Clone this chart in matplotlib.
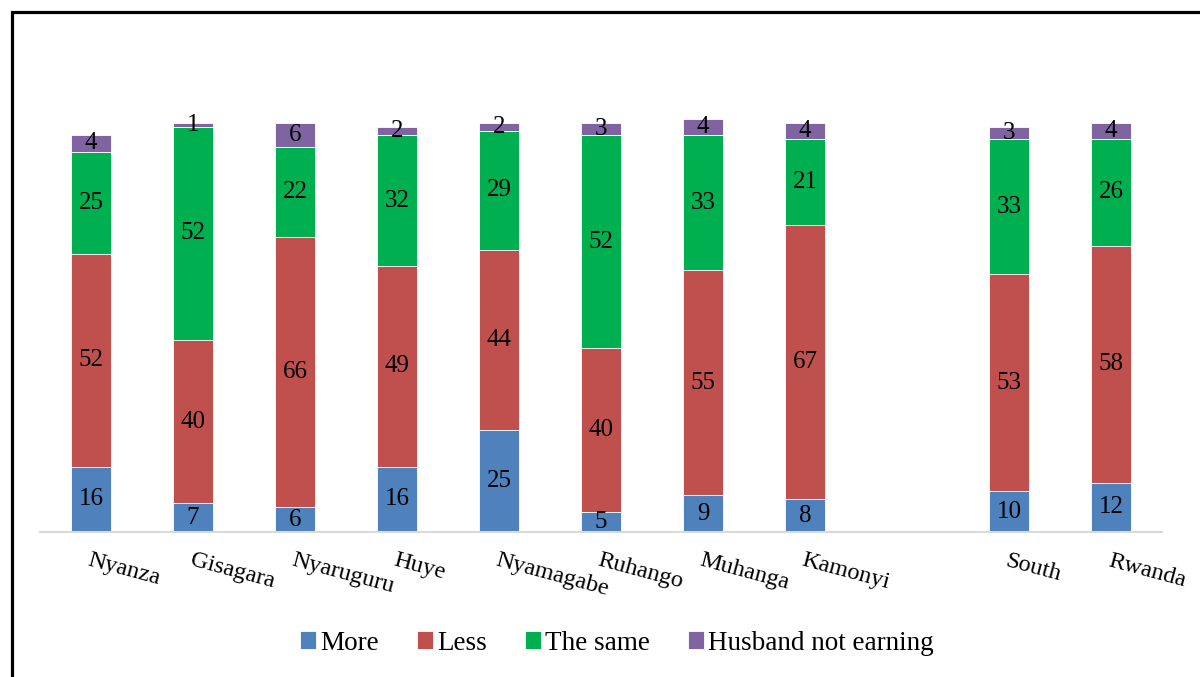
import numpy as np
import matplotlib.pyplot as plt
from matplotlib.patches import Rectangle

plt.rcParams["font.family"] = ["Liberation Serif", "DejaVu Serif"]

categories = ["Nyanza", "Gisagara", "Nyaruguru", "Huye", "Nyamagabe",
              "Ruhango", "Muhanga", "Kamonyi", "South", "Rwanda"]

more = [16, 7, 6, 16, 25, 5, 9, 8, 10, 12]
less = [52, 40, 66, 49, 44, 40, 55, 67, 53, 58]
same = [25, 52, 22, 32, 29, 52, 33, 21, 33, 26]
not_earning = [4, 1, 6, 2, 2, 3, 4, 4, 3, 4]

series = [
    ("More", more, "#4F81BD"),
    ("Less", less, "#C0504D"),
    ("The same", same, "#00B050"),
    ("Husband not earning", not_earning, "#8064A2"),
]

# empty slot between the districts and the totals
gap_after = 8
x = np.array([i if i < gap_after else i + 1 for i in range(len(categories))])

fig = plt.figure(figsize=(12, 6.77), dpi=100)
ax = fig.add_axes([40 / 1200, 145 / 677, 1122 / 1200, 450 / 677])

bottom = np.zeros(len(categories))
for name, vals, color in series:
    vals = np.array(vals, dtype=float)
    ax.bar(x, vals, width=0.39, bottom=bottom, color=color,
           label=name, edgecolor="white", linewidth=0.6, clip_on=False)
    for xi, b, v in zip(x, bottom, vals):
        ax.text(xi, b + v / 2, f"{v:.0f}", ha="center", va="center",
                fontsize=18, color="black")
    bottom += vals

ax.set_xlim(-0.5, 10.5)
ax.set_ylim(0, 110)
ax.set_yticks([])
ax.set_xticks(x)
ax.set_xticklabels(categories, rotation=-15, ha="left",
                   rotation_mode="anchor", fontsize=17.5)
ax.tick_params(axis="x", length=0, pad=13)
for s in ["top", "right", "left"]:
    ax.spines[s].set_visible(False)
ax.spines["bottom"].set_color("#D9D9D9")
ax.spines["bottom"].set_linewidth(1.5)

fig.legend(loc="center", bbox_to_anchor=(617 / 1200, 1 - 643 / 677),
           ncol=4, frameon=False, fontsize=19.5, handlelength=0.6,
           handleheight=0.6, handletextpad=0.15, columnspacing=1.4)

# outer frame of the figure box (top and left edges visible)
fig.patches.append(Rectangle((11.5 / 1200, -0.1), 1.2, 0.1 + 1 - 11.5 / 677,
                             transform=fig.transFigure, fill=False,
                             edgecolor="black", linewidth=2.3))

fig.savefig("out.png", dpi=100)
